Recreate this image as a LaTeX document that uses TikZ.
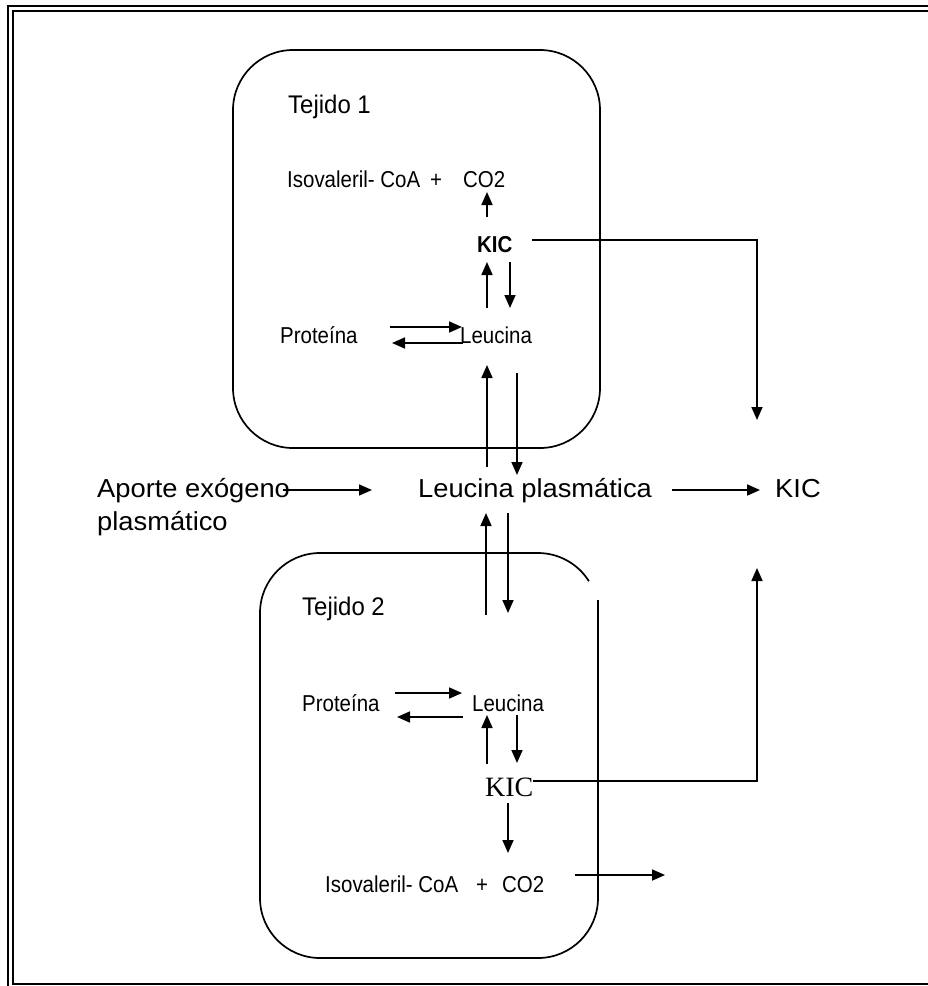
\documentclass[tikz,border=0pt]{standalone}
\usepackage{fontspec}
\setmainfont{Liberation Sans}
\newfontfamily\narrowf[FakeStretch=0.89]{Liberation Sans}
\newfontfamily\tejf[FakeStretch=0.94]{Liberation Sans}
\newfontfamily\widef[FakeStretch=1.05]{Liberation Sans}
\newfontfamily\serifkic{Liberation Serif}
\usetikzlibrary{arrows.meta}
\begin{document}
\begin{tikzpicture}[x=1pt,y=-1pt,
  frameline/.style={line width=1.8pt},
  boxline/.style={line width=1.7pt},
  arr/.style={line width=1.7pt,-{Triangle[length=13pt,width=11pt]}},
  small/.style={anchor=base west,inner sep=0pt,font=\narrowf\fontsize{23}{27}\selectfont},
  mid/.style={anchor=base west,inner sep=0pt,font=\tejf\fontsize{25.5}{29}\selectfont},
  big/.style={anchor=base west,inner sep=0pt,font=\widef\fontsize{26}{31}\selectfont}]
\useasboundingbox (0,0) rectangle (928,986);
\fill[white] (0,0) rectangle (928,986);
% frame
\draw[frameline] (928,6) -- (8,6) -- (8,986);
\draw[frameline] (928,11) -- (13,11) -- (13,984) -- (928,984);
% tissue boxes
\draw[boxline, rounded corners=60pt] (233,50) rectangle (600,448);
\draw[boxline, rounded corners=60pt] (598,600) -- (598,958) -- (260,958) -- (260,553) -- (538,553);
\draw[boxline] (538,553) arc[start angle=270, end angle=328, radius=60];
% tissue 1 texts
\node[mid] (tej1) at (288,113) {Tejido 1};
\node[small] (iso1) at (287,187) {Isovaleril- CoA};
\node[small,anchor=base] (plus1) at (436,187) {+};
\node[small] (co2a) at (463,187) {CO2};
\node[small,font=\narrowf\fontsize{23}{27}\selectfont\bfseries] (kic1) at (477,252) {KIC};
\node[small] (prot1) at (280,343) {Proteína};
\node[small] (leu1) at (460,343) {Leucina};
% plasma row
\node[big] (aporte) at (97,497) {Aporte exógeno};
\node[big] (aporte2) at (97,530) {plasmático};
\node[big] (leup) at (418,497) {Leucina plasmática};
\node[big] (kicp) at (775,497) {KIC};
% tissue 2 texts
\node[mid] (tej2) at (302,615) {Tejido 2};
\node[small] (prot2) at (302,711) {Proteína};
\node[small] (leu2) at (472,711) {Leucina};
\node[anchor=base west,inner sep=0pt,font=\serifkic\fontsize{28}{32}\selectfont] (kic2) at (485,796) {KIC};
\node[small] (iso2) at (325,892) {Isovaleril- CoA};
\node[small,anchor=base] (plus2) at (482,892) {+};
\node[small] (co2b) at (502,892) {CO2};
% connector end points
\coordinate (a1s) at (487,217); \coordinate (a1e) at (487,192);
\coordinate (k1s) at (532,240); \coordinate (k1c) at (757,240); \coordinate (k1e) at (757,420);
\coordinate (a2s) at (487,308); \coordinate (a2e) at (487,262);
\coordinate (a3s) at (510,262); \coordinate (a3e) at (510,308);
\coordinate (a4s) at (390,327); \coordinate (a4e) at (462,327);
\coordinate (a5s) at (463,343); \coordinate (a5e) at (392,343);
\coordinate (a6s) at (487,467); \coordinate (a6e) at (487,365);
\coordinate (a7s) at (517,373); \coordinate (a7e) at (517,475);
\coordinate (p1s) at (283,490); \coordinate (p1e) at (372,490);
\coordinate (p2s) at (672,490); \coordinate (p2e) at (760,490);
\coordinate (b1s) at (486,615); \coordinate (b1e) at (486,513);
\coordinate (b2s) at (508,513); \coordinate (b2e) at (508,613);
\coordinate (b3s) at (395,693); \coordinate (b3e) at (462,693);
\coordinate (b4s) at (463,717); \coordinate (b4e) at (397,717);
\coordinate (b5s) at (487,764); \coordinate (b5e) at (487,715);
\coordinate (b6s) at (517,715); \coordinate (b6e) at (517,763);
\coordinate (k2s) at (533,781); \coordinate (k2c) at (757,781); \coordinate (k2e) at (757,568);
\coordinate (b7s) at (508,803); \coordinate (b7e) at (508,853);
\coordinate (b8s) at (575,875); \coordinate (b8e) at (665,875);
% tissue 1 connectors
\draw[arr] (a1s) -- (a1e);
\draw[arr] (k1s) -- (k1c) -- (k1e);
\draw[arr] (a2s) -- (a2e);
\draw[arr] (a3s) -- (a3e);
\draw[arr] (a4s) -- (a4e);
\draw[arr] (a5s) -- (a5e);
\draw[arr] (a6s) -- (a6e);
\draw[arr] (a7s) -- (a7e);
% plasma connectors
\draw[arr] (p1s) -- (p1e);
\draw[arr] (p2s) -- (p2e);
% tissue 2 connectors
\draw[arr] (b1s) -- (b1e);
\draw[arr] (b2s) -- (b2e);
\draw[arr] (b3s) -- (b3e);
\draw[arr] (b4s) -- (b4e);
\draw[arr] (b5s) -- (b5e);
\draw[arr] (b6s) -- (b6e);
\draw[arr] (k2s) -- (k2c) -- (k2e);
\draw[arr] (b7s) -- (b7e);
\draw[arr] (b8s) -- (b8e);
\end{tikzpicture}
\end{document}
